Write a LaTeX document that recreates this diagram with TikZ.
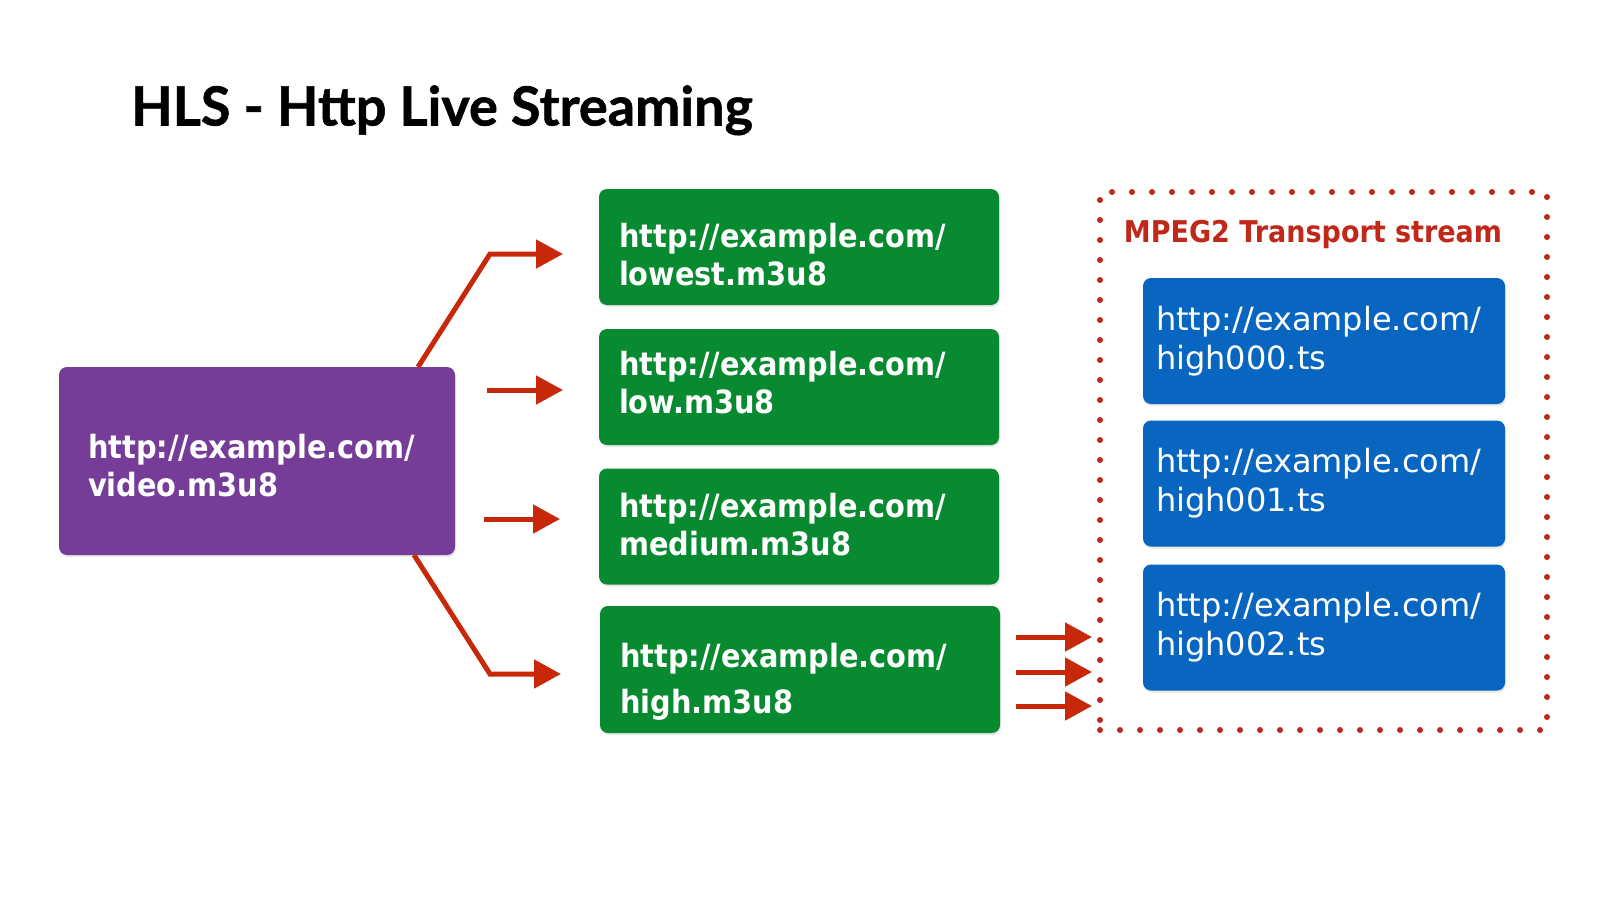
\documentclass[tikz,border=0pt]{standalone}
\usepackage{fontspec}
\setmainfont{DejaVu Sans}
\newfontfamily\titlefont{Lato}[BoldFeatures={FakeBold=1}]
\newfontfamily\condfont{DejaVu Sans}[FakeStretch=0.9]
\usetikzlibrary{arrows.meta,calc,shadows}
\definecolor{hlspurple}{HTML}{763D98}
\definecolor{hlsgreen}{HTML}{088A30}
\definecolor{hlsblue}{HTML}{0866C0}
\definecolor{hlsred}{HTML}{C8280A}
\definecolor{hlsdot}{HTML}{C0281A}
\tikzset{
  card/.style={rounded corners=8pt, inner sep=0pt, anchor=center,
    drop shadow={opacity=0.18, shadow xshift=1pt, shadow yshift=-2pt}},
  purplecard/.style={card, fill=hlspurple, minimum width=396pt, minimum height=188pt},
  greencard/.style={card, fill=hlsgreen, minimum width=400pt, minimum height=116pt},
  bluecard/.style={card, fill=hlsblue, minimum width=362pt, minimum height=126pt},
  cardtext/.style={anchor=west, inner sep=0pt, text=white, align=left},
  boldtext/.style={cardtext, font=\condfont\bfseries\fontsize{32}{38}\selectfont},
  regtext/.style={cardtext, font=\fontsize{32}{39}\selectfont},
  arr/.style={draw=hlsred, line width=5pt, line join=miter, -{Triangle[length=27pt,width=28pt]}},
  dotbox/.style={draw=hlsdot, line width=6pt, line cap=round, dash pattern=on 0pt off 20pt,
    minimum width=447pt, minimum height=538pt, inner sep=0pt},
}
\begin{document}
\begin{tikzpicture}[x=1pt,y=-1pt]
\fill[white] (0,0) rectangle (1600,900);
\useasboundingbox (0,0) rectangle (1600,900);

\node[anchor=base west, inner sep=0pt, font=\titlefont\bfseries\fontsize{54}{60}\selectfont] (title) at (131,125.5) {HLS - Http Live Streaming};

\node[purplecard] (master) at (257,461) {};
\node[boldtext] (master-t) at ($(master.west)+(29,5)$) {http://example.com/\\video.m3u8};

\node[greencard] (lowest) at (799,247) {};
\node[boldtext] (lowest-t) at ($(lowest.west)+(20,8)$) {http://example.com/\\lowest.m3u8};
\node[greencard] (low) at (799,387) {};
\node[boldtext] (low-t) at ($(low.west)+(20,-4)$) {http://example.com/\\low.m3u8};
\node[greencard] (medium) at (799,526.5) {};
\node[boldtext] (medium-t) at ($(medium.west)+(20,-2)$) {http://example.com/\\medium.m3u8};
\node[greencard, minimum height=127pt] (high) at (800,669.5) {};
\node[boldtext, font=\condfont\bfseries\fontsize{32}{46}\selectfont] (high-t) at ($(high.west)+(20,12)$) {http://example.com/\\high.m3u8};

\node[dotbox] (ts) at (1323.5,461) {};
\node[anchor=center, inner sep=0pt, text=hlsdot, font=\condfont\bfseries\fontsize{30}{36}\selectfont] (tstitle) at (1313,234) {MPEG2 Transport stream};

\node[bluecard] (seg0) at (1324,341) {};
\node[regtext] (seg0-t) at ($(seg0.west)+(13,0)$) {http://example.com/\\high000.ts};
\node[bluecard] (seg1) at (1324,483.5) {};
\node[regtext] (seg1-t) at ($(seg1.west)+(13,0)$) {http://example.com/\\high001.ts};
\node[bluecard] (seg2) at (1324,627.5) {};
\node[regtext] (seg2-t) at ($(seg2.west)+(13,0)$) {http://example.com/\\high002.ts};

\coordinate (a1s) at (418,367);
\coordinate (a1b) at (490,254);
\coordinate (a1e) at (563,254);
\coordinate (a2s) at (487,390);
\coordinate (a2e) at (563,390);
\coordinate (a3s) at (484,519);
\coordinate (a3e) at (560,519);
\coordinate (a4s) at (414,555);
\coordinate (a4b) at (490,674);
\coordinate (a4e) at (561,674);
\coordinate (b1s) at (1016,637);
\coordinate (b1e) at (1092,637);
\coordinate (b2s) at (1016,672);
\coordinate (b2e) at (1092,672);
\coordinate (b3s) at (1016,706);
\coordinate (b3e) at (1092,706);

\draw[arr] (a1s) -- (a1b) -- (a1e);
\draw[arr] (a2s) -- (a2e);
\draw[arr] (a3s) -- (a3e);
\draw[arr] (a4s) -- (a4b) -- (a4e);
\draw[arr] (b1s) -- (b1e);
\draw[arr] (b2s) -- (b2e);
\draw[arr] (b3s) -- (b3e);
\end{tikzpicture}
\end{document}
